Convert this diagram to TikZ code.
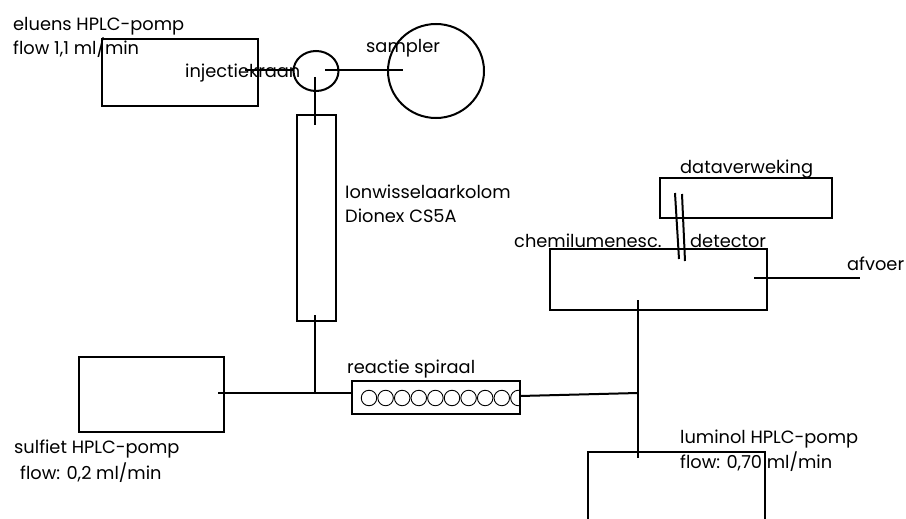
\documentclass[tikz,border=0pt]{standalone}
\usepackage{fontspec}
\usetikzlibrary{shapes.geometric}
\setmainfont{Poppins}
\tikzset{
  x=1pt,y=-1pt,
  box/.style={draw=black,line width=2pt,rectangle,minimum width=#1,inner sep=0pt},
  lab/.style={anchor=base west,inner sep=0pt,font=\fontsize{17.8}{20}\selectfont,text=black},
  pipe/.style={draw=black,line width=2pt},
  coil/.style={draw=black,line width=0.9pt},
}
\begin{document}
\begin{tikzpicture}
\useasboundingbox (0,0) rectangle (906,519);
% boxes
\node[box=156pt,minimum height=67pt] (eluens) at (180,73) {};
\node[draw,line width=2pt,ellipse,minimum width=45pt,minimum height=40pt,inner sep=0pt] (valve) at (316,71) {};
\node[draw,line width=2pt,ellipse,minimum width=96pt,minimum height=94pt,inner sep=0pt] (sampler) at (436,71) {};
\node[box=39pt,minimum height=206pt] (column) at (316.5,218) {};
\node[box=145pt,minimum height=75pt] (sulfiet) at (151.5,394.5) {};
\node[box=168pt,minimum height=33pt] (spiral) at (436,397.5) {};
\node[box=172pt,minimum height=40pt] (data) at (746,198) {};
\node[box=217pt,minimum height=61pt] (detector) at (658.5,279.5) {};
% luminol pump: open at the page bottom
\coordinate (lumA) at (588,519); \coordinate (lumB) at (588,452);
\coordinate (lumC) at (765,452); \coordinate (lumD) at (765,519);
\draw[pipe] (lumA) -- (lumB) -- (lumC) -- (lumD);
% coil
\begin{scope}
\clip (352,381) rectangle (519,414);
\foreach \i in {0,...,9}
  \node[coil,circle,minimum size=15.5pt,inner sep=0pt] (c\i) at ({369+16.6*\i},398) {};
\end{scope}
% connector ends
\coordinate (e1) at (245,70); \coordinate (e2) at (293,70);
\coordinate (s1) at (325,70.5); \coordinate (s2) at (403,70.5);
\coordinate (v1) at (314.5,77); \coordinate (v2) at (314.5,125);
\coordinate (k1) at (315,315); \coordinate (k2) at (315,393);
\coordinate (h1) at (218,393); \coordinate (h2) at (352,393);
\coordinate (r1) at (520,396); \coordinate (r2) at (638,393);
\coordinate (t1) at (638,300); \coordinate (t2) at (638,458);
\coordinate (a1) at (754,278); \coordinate (a2) at (860,278);
\coordinate (d1) at (675,193); \coordinate (d2) at (679,259);
\coordinate (d3) at (682,194); \coordinate (d4) at (685,261);
\draw[pipe] (e1) -- (e2);
\draw[pipe] (s1) -- (s2);
\draw[pipe] (v1) -- (v2);
\draw[pipe] (k1) -- (k2);
\draw[pipe] (h1) -- (h2);
\draw[pipe] (r1) -- (r2);
\draw[pipe] (t1) -- (t2);
\draw[pipe] (a1) -- (a2);
\draw[pipe] (d1) -- (d2);
\draw[pipe] (d3) -- (d4);
% labels
\node[lab] (l1) at (13,31) {eluens HPLC-pomp};
\node[lab] (l2) at (13,55) {flow 1,1 ml/min};
\node[lab] (l3) at (185,78) {injectiekraan};
\node[lab] (l4) at (366,53) {sampler};
\node[lab] (l5) at (345,198) {Ionwisselaarkolom};
\node[lab] (l6) at (345,222) {Dionex CS5A};
\node[lab] (l7) at (347,373) {reactie spiraal};
\node[lab] (l8) at (14,453) {sulfiet HPLC-pomp};
\node[lab] (l9) at (20,479) {flow: 0,2 ml/min};
\node[lab] (l10) at (680,173) {dataverweking};
\node[lab] (l11) at (514,247) {chemilumenesc.};
\node[lab] (l12) at (690,247) {detector};
\node[lab] (l13) at (847,270) {afvoer};
\node[lab] (l14) at (680,443) {luminol HPLC-pomp};
\node[lab] (l15) at (680,468) {flow: 0,70 ml/min};
\end{tikzpicture}
\end{document}
